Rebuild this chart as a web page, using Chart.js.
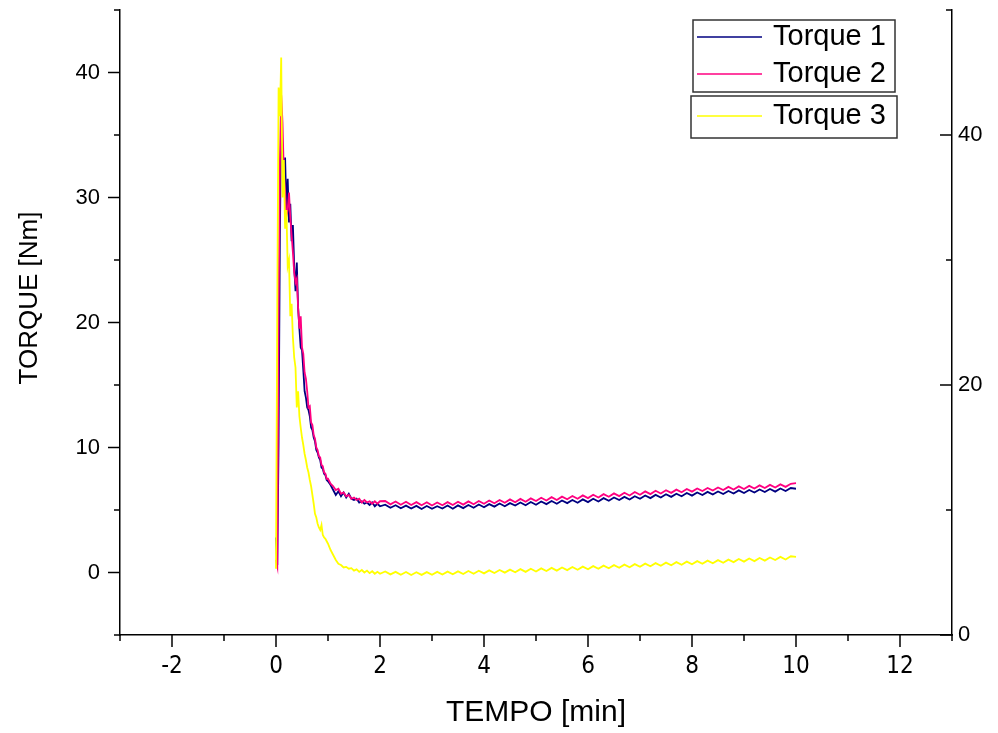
<!DOCTYPE html>
<html>
<head>
<meta charset="utf-8">
<script src="https://cdn.jsdelivr.net/npm/chart.js@4"></script>
<style>
  html, body { margin: 0; padding: 0; background: #fff; }
  #wrap { width: 998px; height: 733px; position: relative; }
</style>
</head>
<body>
<div id="wrap"><canvas id="chart" width="998" height="733"></canvas></div>
<script>
// time axis (min) shared by the three torque curves
const tempo = [
  0, 0.025, 0.05, 0.075, 0.1, 0.125, 0.15, 0.175, 0.2, 0.225,
  0.25, 0.275, 0.3, 0.325, 0.35, 0.375, 0.4, 0.425, 0.45, 0.475,
  0.5, 0.525, 0.55, 0.575, 0.6, 0.625, 0.65, 0.675, 0.7, 0.725,
  0.75, 0.775, 0.8, 0.825, 0.85, 0.875, 0.9, 0.925, 0.95, 0.975, 1.0,
  1.05, 1.1, 1.15, 1.2, 1.25, 1.3, 1.35, 1.4, 1.45, 1.5,
  1.55, 1.6, 1.65, 1.7, 1.75, 1.8, 1.85, 1.9, 1.95, 2.0,
  2.1, 2.2, 2.3, 2.4, 2.5, 2.6, 2.7, 2.8, 2.9, 3.0,
  3.1, 3.2, 3.3, 3.4, 3.5, 3.6, 3.7, 3.8, 3.9, 4.0,
  4.1, 4.2, 4.3, 4.4, 4.5, 4.6, 4.7, 4.8, 4.9, 5.0,
  5.1, 5.2, 5.3, 5.4, 5.5, 5.6, 5.7, 5.8, 5.9, 6.0,
  6.1, 6.2, 6.3, 6.4, 6.5, 6.6, 6.7, 6.8, 6.9, 7.0,
  7.1, 7.2, 7.3, 7.4, 7.5, 7.6, 7.7, 7.8, 7.9, 8.0,
  8.1, 8.2, 8.3, 8.4, 8.5, 8.6, 8.7, 8.8, 8.9, 9.0,
  9.1, 9.2, 9.3, 9.4, 9.5, 9.6, 9.7, 9.8, 9.9, 10.0
]

const torque1 = [
  2.8, 0.6, 10.5, 27.0, 36.5, 33.8, 31.0, 33.2, 29.0, 31.5,
  28.0, 29.5, 26.5, 27.8, 24.5, 22.5, 24.8, 21.2, 19.5, 18.0,
  17.8, 16.2, 14.5, 14.0, 13.2, 13.0, 12.5, 11.6, 11.4, 10.8,
  10.5, 9.8, 9.6, 9.2, 9.0, 8.4, 8.3, 7.9, 7.8, 7.4, 7.3,
  7.0, 6.6, 6.2, 6.5, 6.1, 6.4, 6.0, 6.3, 5.9, 5.8,
  5.9, 5.6, 5.7, 5.5, 5.6, 5.4, 5.6, 5.3, 5.5, 5.3,
  5.42, 5.18, 5.38, 5.14, 5.35, 5.12, 5.33, 5.08, 5.32, 5.10,
  5.30, 5.12, 5.36, 5.10, 5.37, 5.15, 5.40, 5.18, 5.44, 5.22,
  5.47, 5.27, 5.52, 5.30, 5.55, 5.36, 5.60, 5.38, 5.64, 5.42,
  5.68, 5.47, 5.72, 5.50, 5.76, 5.55, 5.80, 5.58, 5.85, 5.63,
  5.90, 5.68, 5.95, 5.74, 6.00, 5.80, 6.05, 5.84, 6.10, 5.90,
  6.16, 5.95, 6.21, 6.00, 6.26, 6.05, 6.30, 6.10, 6.36, 6.15,
  6.40, 6.20, 6.45, 6.24, 6.48, 6.28, 6.52, 6.32, 6.57, 6.36,
  6.60, 6.40, 6.64, 6.44, 6.68, 6.47, 6.72, 6.52, 6.76, 6.70
]

const torque2 = [
  1.0, 0.5, 21.0, 33.0, 38.2, 36.0, 32.0, 30.5, 28.5, 29.0,
  30.4, 28.4, 27.0, 25.6, 24.0, 23.2, 23.5, 21.2, 19.5, 20.5,
  18.0, 17.5, 16.0, 15.5, 14.5, 13.2, 13.3, 12.0, 11.8, 11.0,
  10.7, 10.0, 9.8, 9.3, 9.2, 8.6, 8.5, 8.0, 7.9, 7.5, 7.5,
  7.1, 6.9, 6.6, 6.7, 6.3, 6.4, 6.1, 6.2, 5.9, 6.0,
  5.8, 5.9, 5.6, 5.8, 5.6, 5.7, 5.5, 5.7, 5.5, 5.7,
  5.72, 5.45, 5.68, 5.42, 5.66, 5.40, 5.63, 5.38, 5.62, 5.36,
  5.60, 5.38, 5.63, 5.40, 5.66, 5.43, 5.69, 5.46, 5.72, 5.50,
  5.76, 5.54, 5.80, 5.58, 5.85, 5.62, 5.89, 5.66, 5.93, 5.72,
  5.98, 5.76, 6.03, 5.80, 6.07, 5.86, 6.12, 5.90, 6.17, 5.95,
  6.22, 6.00, 6.27, 6.06, 6.33, 6.11, 6.38, 6.16, 6.44, 6.22,
  6.49, 6.27, 6.54, 6.32, 6.58, 6.37, 6.63, 6.42, 6.68, 6.47,
  6.72, 6.52, 6.76, 6.56, 6.80, 6.60, 6.85, 6.64, 6.89, 6.68,
  6.93, 6.72, 6.97, 6.76, 7.01, 6.80, 7.05, 6.85, 7.10, 7.15
]

const torque3 = [
  0.3, 21.4, 38.8, 36.5, 41.2, 30.0, 33.0, 27.5, 29.0, 24.5,
  25.0, 20.5, 21.5, 18.8, 17.2, 16.4, 13.2, 14.5, 12.5, 11.6,
  10.8, 10.2, 9.5, 9.0, 8.4, 8.0, 7.4, 6.9, 6.2, 5.5,
  4.7, 4.4, 3.9, 3.6, 3.4, 3.8, 3.0, 2.8, 2.7, 2.5, 2.3,
  1.8, 1.4, 1.0, 0.7, 0.6, 0.4, 0.45, 0.3, 0.35, 0.15,
  0.25, 0.05, 0.2, 0.0, 0.15, -0.05, 0.1, -0.1, 0.05, -0.1,
  0.08, -0.15, 0.05, -0.18, 0.04, -0.20, 0.02, -0.19, 0.03, -0.18,
  0.05, -0.16, 0.07, -0.14, 0.09, -0.12, 0.12, -0.10, 0.14, -0.07,
  0.17, -0.04, 0.20, -0.01, 0.23, 0.02, 0.27, 0.05, 0.30, 0.08,
  0.33, 0.12, 0.37, 0.15, 0.40, 0.19, 0.44, 0.22, 0.47, 0.26,
  0.51, 0.30, 0.55, 0.34, 0.59, 0.38, 0.63, 0.42, 0.67, 0.46,
  0.71, 0.50, 0.75, 0.54, 0.79, 0.58, 0.83, 0.62, 0.87, 0.66,
  0.91, 0.70, 0.95, 0.74, 0.99, 0.78, 1.03, 0.83, 1.08, 0.87,
  1.12, 0.91, 1.16, 0.95, 1.20, 1.00, 1.25, 1.04, 1.30, 1.25
]

const seriesNames = ['Torque 1', 'Torque 2', 'Torque 3']
const seriesColors = ['#000080', '#ff0080', '#ffff00']

// axis ticks
const xMajor = [-2, 0, 2, 4, 6, 8, 10, 12]
const xMinor = [-3, -1, 1, 3, 5, 7, 9, 11, 13]
const yMajor = [0, 10, 20, 30, 40]
const yMinor = [-5, 5, 15, 25, 35, 45]
const y2Major = [0, 20, 40]
const y2Minor = [10, 30, 50]

const FONT = "'Liberation Sans', Arial, sans-serif"
const NARROW = "'Liberation Sans Narrow', 'Arial Narrow', 'DejaVu Sans Condensed', 'Liberation Sans', sans-serif"

function toPoints (ys) {
  return tempo.map((t, i) => ({ x: t, y: ys[i] }))
}

// keep the plot box exactly where the reference has it
function noPad (s) {
  s.paddingTop = 0
  s.paddingBottom = 0
  s.paddingLeft = 0
  s.paddingRight = 0
}

// ticks, y title and the two legend boxes
const decor = {
  id: 'decor',
  afterDraw (chart) {
    const ctx = chart.ctx
    const { x, y, y1 } = chart.scales
    ctx.save()
    ctx.strokeStyle = '#000'
    ctx.lineWidth = 1.5

    const tick = (x0, y0, x1, y1_) => {
      ctx.beginPath()
      ctx.moveTo(x0, y0)
      ctx.lineTo(x1, y1_)
      ctx.stroke()
    }
    const bottom = chart.chartArea.bottom
    xMajor.forEach(v => { const p = x.getPixelForValue(v); tick(p, bottom, p, bottom + 12) })
    xMinor.forEach(v => { const p = x.getPixelForValue(v); tick(p, bottom, p, bottom + 6) })
    const left = chart.chartArea.left
    yMajor.forEach(v => { const p = y.getPixelForValue(v); tick(left, p, left - 12, p) })
    yMinor.forEach(v => { const p = y.getPixelForValue(v); tick(left, p, left - 6, p) })
    const right = chart.chartArea.right
    y2Major.forEach(v => { const p = y1.getPixelForValue(v); tick(right, p, right - 12, p) })
    y2Minor.forEach(v => { const p = y1.getPixelForValue(v); tick(right, p, right - 6, p) })

    // left axis title
    ctx.fillStyle = '#000'
    ctx.font = '26px ' + FONT
    ctx.textAlign = 'center'
    ctx.textBaseline = 'middle'
    ctx.save()
    ctx.translate(30, 298)
    ctx.rotate(-Math.PI / 2)
    ctx.fillText('TORQUE [Nm]', 0, 0)
    ctx.restore()

    // legend: first two entries share a frame, the third has its own
    ctx.strokeStyle = '#333'
    ctx.lineWidth = 1.5
    ctx.strokeRect(693, 20, 202, 72)
    ctx.strokeRect(691, 96, 206, 42)
    const rows = [37, 74, 116]
    ctx.font = '29px ' + FONT
    ctx.textAlign = 'left'
    chart.data.datasets.forEach((ds, i) => {
      ctx.strokeStyle = ds.borderColor
      ctx.lineWidth = 1.5
      tick(697, rows[i], 762, rows[i])
      ctx.fillStyle = '#000'
      ctx.fillText(ds.label, 773, rows[i])
    })
    ctx.restore()
  }
}

new Chart(document.getElementById('chart'), {
  type: 'line',
  data: {
    datasets: [
      { label: seriesNames[0], data: toPoints(torque1), borderColor: seriesColors[0], order: 3 },
      { label: seriesNames[1], data: toPoints(torque2), borderColor: seriesColors[1], order: 2 },
      { label: seriesNames[2], data: toPoints(torque3), borderColor: seriesColors[2], order: 1 }
    ]
  },
  options: {
    responsive: false,
    animation: false,
    layout: { padding: { top: 10, left: 0, right: 0, bottom: 0 } },
    elements: {
      line: { borderWidth: 1.8, tension: 0 },
      point: { radius: 0 }
    },
    plugins: {
      legend: { display: false },
      tooltip: { enabled: false }
    },
    scales: {
      x: {
        type: 'linear',
        position: 'bottom',
        min: -3,
        max: 13,
        afterBuildTicks: s => { s.ticks = xMajor.map(v => ({ value: v })) },
        afterFit: s => { s.height = 98; noPad(s) },
        grid: { display: false, drawTicks: false },
        border: { display: true, color: '#000', width: 1.5 },
        ticks: { color: '#000', padding: 17, maxRotation: 0, font: { family: NARROW, size: 24 } },
        title: {
          display: true,
          text: 'TEMPO [min]',
          color: '#000',
          font: { family: FONT, size: 30 },
          padding: { top: 0, bottom: 2 }
        }
      },
      y: {
        type: 'linear',
        position: 'left',
        min: -5,
        max: 45,
        afterBuildTicks: s => { s.ticks = yMajor.map(v => ({ value: v })) },
        afterFit: s => { s.width = 120; noPad(s) },
        grid: { display: false, drawTicks: false },
        border: { display: true, color: '#000', width: 1.5 },
        ticks: { color: '#000', padding: 20, font: { family: FONT, size: 22 } }
      },
      y1: {
        type: 'linear',
        position: 'right',
        min: 0,
        max: 50,
        afterBuildTicks: s => { s.ticks = y2Major.map(v => ({ value: v })) },
        afterFit: s => { s.width = 46; noPad(s) },
        grid: { display: false, drawTicks: false },
        border: { display: true, color: '#000', width: 1.5 },
        ticks: { color: '#000', padding: 6, font: { family: FONT, size: 22 } }
      }
    }
  },
  plugins: [decor]
})
</script>
</body>
</html>
